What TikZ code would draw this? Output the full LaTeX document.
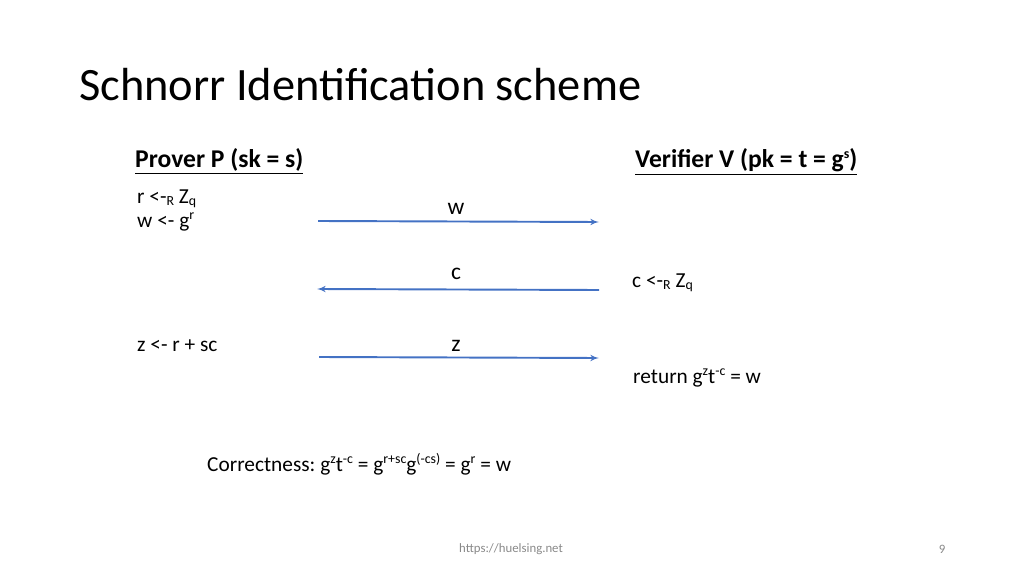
\documentclass[tikz,border=0pt]{standalone}
\usepackage{fontspec}
\setmainfont{Carlito}
\usepackage{tikz}
\usetikzlibrary{arrows,positioning}
\definecolor{msgblue}{HTML}{4472C4}
\definecolor{footgray}{HTML}{898989}
\newcommand{\hsup}[1]{\raisebox{0.36em}{\fontsize{13}{15}\selectfont #1}}
\newcommand{\hsub}[1]{\raisebox{-0.12em}{\fontsize{13}{15}\selectfont #1}}
\frenchspacing

\begin{document}
\begin{tikzpicture}[
    x=0.9375pt,
    y=-0.9375pt,
    >=latex',
    txt/.style={
		anchor=base west,
		inner sep=0pt,
		font=\fontsize{20}{24}\selectfont
	},
	head/.style={
		anchor=base west,
		inner sep=0pt,
		font=\fontsize{24}{29}\selectfont\bfseries
	},
	msg/.style={
		draw=msgblue,
		line width=1.8pt
	},
	lbl/.style={
		inner sep=0pt,
		font=\fontsize{22}{26}\selectfont
	},
	foot/.style={
		inner sep=0pt,
		text=footgray,
		font=\fontsize{12}{14}\selectfont
	}
  ]
  \useasboundingbox (0,0) rectangle (1024,576);

    % title and the two parties
  \node [anchor=base west, inner sep=0pt, font=\fontsize{43.5}{52}\selectfont] (title) at (79,101)
 {Schnorr Identification scheme};

  \node [head] (prover) at (135,168) {\underline{Prover P (sk = s)}};
  \node [head] (verifier) at (635,168) {\underline{Verifier V (pk = t = g\hsup{\bfseries s})}};

    % prover side
  \node [txt] (rgen) at (137,203) {r <-\hsub{R} Z\hsub{q}};
  \node [txt] (wcomp) at (137,227) {w <- g\hsup{r}};
  \node [txt] (zcomp) at (137,351) {z <- r + sc};

    % verifier side
  \node [txt] (cgen) at (632,287) {c <-\hsub{R} Z\hsub{q}};
  \node [txt] (check) at (633,383) {return g\hsup{z}t\hsup{-c} = w};

    % messages
  \coordinate (wstart) at (318,221);
  \coordinate (wend) at (599,222);
  \coordinate (cstart) at (599,290);
  \coordinate (cend) at (317,289);
  \coordinate (zstart) at (319,357);
  \coordinate (zend) at (599,358);

  \draw [msg,->] (wstart) -- (wend);
  \draw [msg,->] (cstart) -- (cend);
  \draw [msg,->] (zstart) -- (zend);

  \node [lbl] (wmsg) at (456,209) {w};
  \node [lbl] (cmsg) at (456,274) {c};
  \node [lbl] (zmsg) at (456,346) {z};

    % correctness
  \node [txt] (correct) at (207,471)
 {Correctness: g\hsup{z}t\hsup{-c} = g\hsup{r+sc}g\hsup{(-cs)} = g\hsup{r} = w};

    % footer
  \node [foot] (url) at (511,549) {https://huelsing.net};
  \node [foot] (pagenum) at (942,549) {9};

\end{tikzpicture}
\end{document}
